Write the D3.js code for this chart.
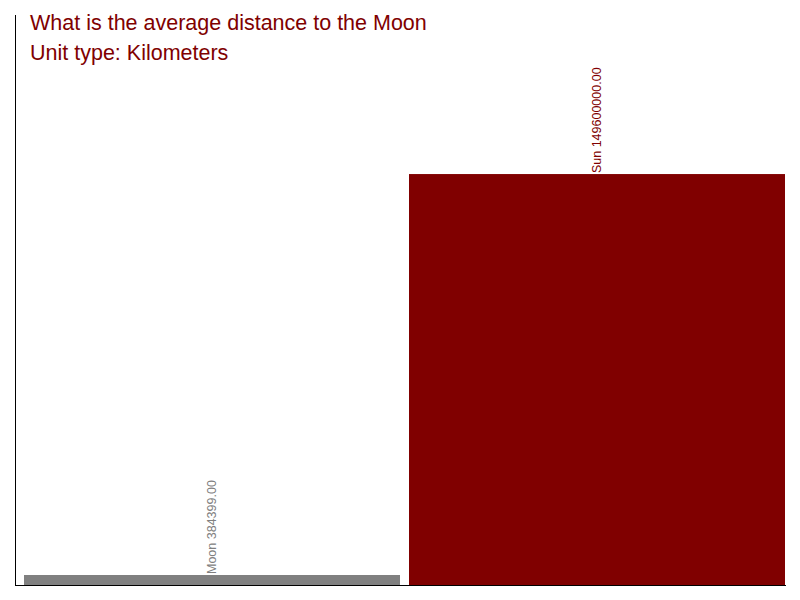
<!DOCTYPE html>
<html>
<head>
<meta charset="utf-8">
<script src="https://cdn.jsdelivr.net/npm/d3@7"></script>
<style>
  body { margin: 0; background: #fff; }
  svg { display: block; font-family: "Liberation Sans", Arial, sans-serif; }
</style>
</head>
<body>
<div id="chart"></div>
<script>
// data
const categories = ["Moon", "Sun"];
const distances = [384399, 149600000];
const barColors = ["#808080", "#800000"];
const titleLines = ["What is the average distance to the Moon", "Unit type: Kilometers"];
const yMax = 207500000;

const width = 800, height = 600;
const margin = { top: 15, right: 15, bottom: 15, left: 15 };
const minBarHeight = 10; // keep tiny values visible
const barGap = 9;

const svg = d3.select("#chart")
  .append("svg")
  .attr("width", width)
  .attr("height", height);

const x = d3.scaleBand()
  .domain(categories)
  .range([margin.left, width - margin.right])
  .padding(0);

const y = d3.scaleLinear()
  .domain([0, yMax])
  .range([height - margin.bottom, margin.top]);

const bars = categories.map((c, i) => ({ name: c, value: distances[i], color: barColors[i] }));

const barTop = (d) => Math.min(y(d.value), y(0) - minBarHeight);

// bars
svg.selectAll(".bar")
  .data(bars)
  .enter()
  .append("rect")
  .attr("class", "bar")
  .attr("x", (d) => x(d.name) + barGap)
  .attr("width", x.bandwidth() - barGap)
  .attr("y", barTop)
  .attr("height", (d) => y(0) - barTop(d))
  .attr("fill", (d) => d.color);

// value labels, rotated
svg.selectAll(".label")
  .data(bars)
  .enter()
  .append("text")
  .attr("class", "label")
  .attr("transform", (d) => {
    const cx = x(d.name) + barGap + (x.bandwidth() - barGap) / 2;
    return `translate(${cx},${barTop(d) - 1}) rotate(-90)`;
  })
  .attr("dy", "0.35em")
  .attr("text-anchor", "start")
  .style("font-size", "12.5px")
  .attr("fill", (d) => d.color)
  .text((d) => `${d.name} ${d3.format(".2f")(d.value)}`);

// axis lines
svg.append("line")
  .attr("x1", margin.left + 0.5).attr("x2", margin.left + 0.5)
  .attr("y1", margin.top).attr("y2", height - margin.bottom)
  .attr("stroke", "#000");

svg.append("line")
  .attr("x1", margin.left).attr("x2", width - margin.right + 1)
  .attr("y1", y(0) + 0.5).attr("y2", y(0) + 0.5)
  .attr("stroke", "#000");

// title
svg.selectAll(".title")
  .data(titleLines)
  .enter()
  .append("text")
  .attr("class", "title")
  .attr("x", 30)
  .attr("y", (d, i) => 30 + i * 30)
  .style("font-size", "21.5px")
  .attr("fill", "#800000")
  .text((d) => d);
</script>
</body>
</html>
